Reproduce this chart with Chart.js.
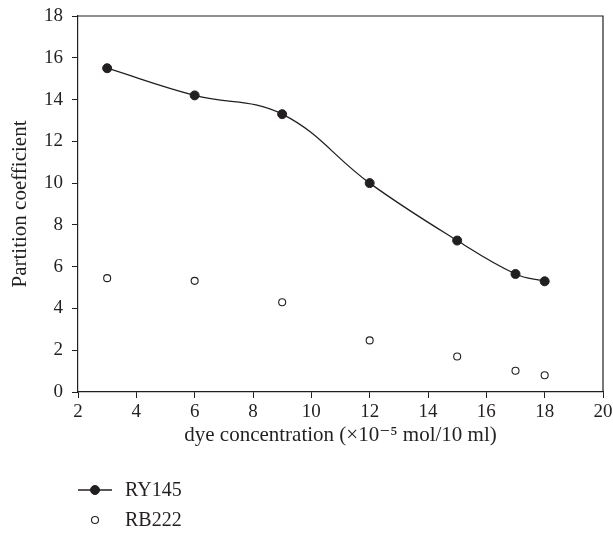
<!DOCTYPE html>
<html>
<head>
<meta charset="utf-8">
<script src="https://cdn.jsdelivr.net/npm/chart.js@4"></script>
<style>
  html, body { margin: 0; padding: 0; background: #fff; }
  #wrap { width: 613px; height: 535px; }
</style>
</head>
<body>
<div id="wrap"><canvas id="chart" width="613" height="535"></canvas></div>
<script>
// dye concentration (x1e-5 mol/10 ml)
const concentrations = [3, 6, 9, 12, 15, 17, 18];
const ry145 = [15.5, 14.2, 13.3, 10.0, 7.25, 5.65, 5.3];
const rb222 = [5.45, 5.32, 4.3, 2.47, 1.7, 1.02, 0.8];
const xTicks = [2, 4, 6, 8, 10, 12, 14, 16, 18, 20];
const yTicks = [0, 2, 4, 6, 8, 10, 12, 14, 16, 18];

const ink = '#231f20';
const serif = "'Liberation Serif', 'DejaVu Serif', serif";

const toPoints = (ys) => concentrations.map((x, i) => ({ x: x, y: ys[i] }));

// legend stacked under the axis title, like the figure
const stackedLegend = {
    id: 'stackedLegend',
    afterDraw(chart) {
        const ctx = chart.ctx;
        const x0 = chart.chartArea.left;
        const rows = [490, 520];
        ctx.save();
        chart.data.datasets.forEach((ds, i) => {
            const y = rows[i];
            const cx = x0 + 17;
            if (ds.showLine) {
                ctx.strokeStyle = ds.borderColor;
                ctx.lineWidth = ds.borderWidth;
                ctx.beginPath();
                ctx.moveTo(x0, y);
                ctx.lineTo(x0 + 34, y);
                ctx.stroke();
            }
            ctx.beginPath();
            ctx.arc(cx, y, ds.pointRadius, 0, Math.PI * 2);
            ctx.fillStyle = ds.pointBackgroundColor;
            ctx.fill();
            ctx.lineWidth = ds.pointBorderWidth;
            ctx.strokeStyle = ds.pointBorderColor;
            ctx.stroke();
            ctx.fillStyle = ink;
            ctx.font = '20px ' + serif;
            ctx.textBaseline = 'middle';
            ctx.fillText(ds.label, x0 + 47, y + 1);
        });
        ctx.restore();
    }
};

// top and right frame lines
const frame = {
    id: 'frame',
    afterDraw(chart) {
        const { left, right, top, bottom } = chart.chartArea;
        const ctx = chart.ctx;
        ctx.save();
        ctx.strokeStyle = ink;
        ctx.lineWidth = 1.2;
        ctx.beginPath();
        ctx.moveTo(left, top);
        ctx.lineTo(right, top);
        ctx.lineTo(right, bottom);
        ctx.stroke();
        ctx.restore();
    }
};

new Chart(document.getElementById('chart').getContext('2d'), {
    type: 'scatter',
    data: {
        datasets: [{
            label: 'RY145',
            data: toPoints(ry145),
            showLine: true,
            tension: 0.4,
            borderColor: ink,
            borderWidth: 1.3,
            pointRadius: 4.5,
            pointBackgroundColor: ink,
            pointBorderColor: ink,
            pointBorderWidth: 1
        }, {
            label: 'RB222',
            data: toPoints(rb222),
            showLine: false,
            pointRadius: 3.5,
            pointBackgroundColor: '#fff',
            pointBorderColor: ink,
            pointBorderWidth: 1.1
        }]
    },
    options: {
        responsive: false,
        animation: false,
        layout: { padding: { top: 16, right: 10, left: 0, bottom: 83 } },
        plugins: { legend: { display: false }, tooltip: { enabled: false } },
        scales: {
            x: {
                type: 'linear',
                min: 2,
                max: 20,
                afterBuildTicks: (s) => { s.ticks = xTicks.map(v => ({ value: v })); },
                afterFit: (s) => {
                    s.height = 60;
                    s.paddingLeft = 0;
                    s.paddingRight = 0;
                },
                border: { color: ink, width: 1.2 },
                grid: { drawOnChartArea: false, tickLength: 6, color: ink },
                ticks: { color: ink, padding: 3, font: { family: serif, size: 19 } },
                title: {
                    display: true,
                    text: 'dye concentration (×10⁻⁵ mol/10 ml)',
                    color: ink,
                    font: { family: serif, size: 21 },
                    padding: { top: 0, bottom: 4 }
                }
            },
            y: {
                min: 0,
                max: 18,
                afterBuildTicks: (s) => { s.ticks = yTicks.map(v => ({ value: v })); },
                afterFit: (s) => {
                    s.width = 78;
                    s.paddingTop = 0;
                    s.paddingBottom = 0;
                },
                border: { color: ink, width: 1.2 },
                grid: { drawOnChartArea: false, tickLength: 6, color: ink },
                ticks: { color: ink, padding: 9, font: { family: serif, size: 19 } },
                title: {
                    display: true,
                    text: 'Partition coefficient',
                    color: ink,
                    font: { family: serif, size: 21 },
                    padding: { top: 8, bottom: 0 }
                }
            }
        }
    },
    plugins: [frame, stackedLegend]
});
</script>
</body>
</html>
